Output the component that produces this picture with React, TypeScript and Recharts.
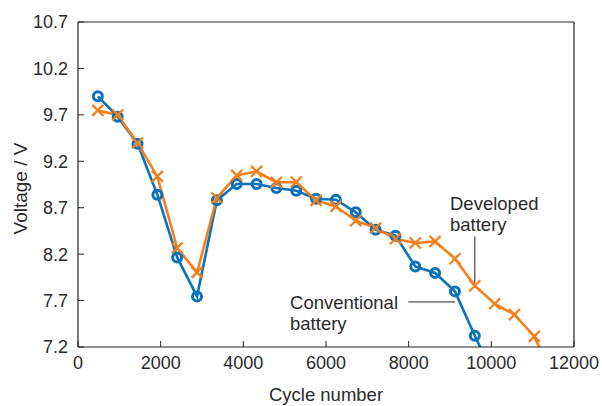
import React from "react";
import {
  LineChart,
  Line,
  XAxis,
  YAxis,
  ReferenceLine,
  ReferenceDot,
} from "recharts";

// ---- data ----
const cycles = [
  480, 960, 1440, 1920, 2400, 2880, 3360, 3840, 4320, 4800, 5280, 5760,
  6240, 6720, 7200, 7680, 8160, 8640, 9120, 9600, 10080, 10560, 11040, 11520,
];
const conventional = [
  9.9, 9.68, 9.39, 8.84, 8.165, 7.745, 8.78, 8.955, 8.955, 8.912, 8.883, 8.797,
  8.786, 8.65, 8.463, 8.399, 8.068, 7.997, 7.799, 7.322, 6.87,
];
const developed = [
  9.748, 9.7, 9.397, 9.037, 8.266, 8.003, 8.805, 9.048, 9.091, 8.973, 8.977,
  8.779, 8.714, 8.56, 8.482, 8.366, 8.32, 8.337, 8.151, 7.86, 7.666, 7.548,
  7.314, 6.83,
];
const xTicks = [0, 2000, 4000, 6000, 8000, 10000, 12000];
const yTicks = [7.2, 7.7, 8.2, 8.7, 9.2, 9.7, 10.2, 10.7];

// annotations (data coordinates)
const developedPointer = [
  { x: 9600, y: 8.39 },
  { x: 9600, y: 7.87 },
];
const conventionalPointer = [
  { x: 7990, y: 7.685 },
  { x: 9120, y: 7.685 },
];
const developedLabelAt = { x: 9000, y: 8.679, lines: ["Developed", "battery"] };
const conventionalLabelAt = { x: 5130, y: 7.613, lines: ["Conventional", "battery"] };

const data = cycles.map((c, i) => ({
  cycle: c,
  conventional: i < conventional.length ? conventional[i] : null,
  developed: i < developed.length ? developed[i] : null,
}));

const BLUE = "#0a72ba";
const ORANGE = "#f2801e";
const TEXT = "#2a2a2a";
const AXIS = "#222";
const FONT = "'Liberation Sans', Arial, Helvetica, sans-serif";

const XTick = (props: any) => {
  const { x, y, payload } = props;
  const axisY = y - 9;
  return (
    <g>
      <line x1={x} x2={x} y1={axisY} y2={axisY - 6} stroke={AXIS} strokeWidth={1} />
      <text x={x} y={y} dy="0.71em" textAnchor="middle" fill={TEXT} fontSize={18} fontFamily={FONT}>
        {payload.value}
      </text>
    </g>
  );
};

const YTick = (props: any) => {
  const { x, y, payload } = props;
  const axisX = x + 10;
  return (
    <g>
      <line x1={axisX} x2={axisX + 6} y1={y} y2={y} stroke={AXIS} strokeWidth={1} />
      <text x={x} y={y} dy="0.355em" textAnchor="end" fill={TEXT} fontSize={18} fontFamily={FONT}>
        {Number(payload.value).toFixed(1)}
      </text>
    </g>
  );
};

const CircleDot = (props: any) => {
  const { cx, cy, index, value } = props;
  if (cx == null || cy == null || value == null) return <g key={`c-${index}`} />;
  return (
    <circle key={`c-${index}`} cx={cx} cy={cy} r={4.5} fill="none" stroke={BLUE} strokeWidth={3} />
  );
};

const CrossDot = (props: any) => {
  const { cx, cy, index, value } = props;
  if (cx == null || cy == null || value == null) return <g key={`x-${index}`} />;
  const s = 5.5;
  return (
    <g key={`x-${index}`}>
      <line x1={cx - s} y1={cy - s} x2={cx + s} y2={cy + s} stroke={ORANGE} strokeWidth={2.3} />
      <line x1={cx - s} y1={cy + s} x2={cx + s} y2={cy - s} stroke={ORANGE} strokeWidth={2.3} />
    </g>
  );
};

const makeLabelShape = (lines: string[]) => (p: any) => (
  <text x={p.cx} y={p.cy} fill={TEXT} fontSize={18.5} fontFamily={FONT}>
    <tspan x={p.cx}>{lines[0]}</tspan>
    <tspan x={p.cx} dy={21.5}>{lines[1]}</tspan>
  </text>
);

export default function App() {
  return (
    <div style={{ position: "absolute", left: 0, top: 0, width: 602, height: 406, background: "#fff" }}>
      <LineChart
        width={602}
        height={406}
        data={data}
        margin={{ top: 22, right: 28, bottom: 0, left: 0 }}
        style={{ overflow: "visible" }}
      >
        <XAxis
          dataKey="cycle"
          type="number"
          domain={[0, 12000]}
          ticks={xTicks}
          tickSize={0}
          tickMargin={9}
          tick={<XTick />}
          height={59}
          axisLine={{ stroke: AXIS, strokeWidth: 1.2 }}
          interval={0}
          label={(lp: any) => {
            const vb = lp.viewBox || {};
            return (
              <text
                x={vb.x + vb.width / 2}
                y={vb.y + 54}
                textAnchor="middle"
                fill={TEXT}
                fontSize={18.5}
                fontFamily={FONT}
              >
                Cycle number
              </text>
            );
          }}
        />
        <YAxis
          type="number"
          domain={[7.2, 10.7]}
          ticks={yTicks}
          allowDataOverflow
          width={78}
          tickSize={0}
          tickMargin={10}
          tick={<YTick />}
          interval={0}
          axisLine={{ stroke: AXIS, strokeWidth: 1.2 }}
          label={(lp: any) => {
            const vb = lp.viewBox || {};
            const cx = 27;
            const cy = vb.y + vb.height / 2 + 4;
            return (
              <text
                x={cx}
                y={cy}
                transform={`rotate(-90, ${cx}, ${cy})`}
                textAnchor="middle"
                fill={TEXT}
                fontSize={19}
                fontFamily={FONT}
              >
                Voltage / V
              </text>
            );
          }}
        />
        <ReferenceLine y={10.7} stroke={AXIS} strokeWidth={1.2} />
        <ReferenceLine x={12000} stroke={AXIS} strokeWidth={1.2} />
        <ReferenceLine segment={developedPointer} stroke={AXIS} strokeWidth={1} />
        <ReferenceLine segment={conventionalPointer} stroke={AXIS} strokeWidth={1} />
        <Line
          dataKey="conventional"
          stroke={BLUE}
          strokeWidth={2.6}
          dot={CircleDot}
          activeDot={false}
          isAnimationActive={false}
        />
        <Line
          dataKey="developed"
          stroke={ORANGE}
          strokeWidth={2.6}
          dot={CrossDot}
          activeDot={false}
          isAnimationActive={false}
        />
        <ReferenceDot
          x={developedLabelAt.x}
          y={developedLabelAt.y}
          r={0}
          ifOverflow="visible"
          shape={makeLabelShape(developedLabelAt.lines)}
        />
        <ReferenceDot
          x={conventionalLabelAt.x}
          y={conventionalLabelAt.y}
          r={0}
          ifOverflow="visible"
          shape={makeLabelShape(conventionalLabelAt.lines)}
        />
      </LineChart>
    </div>
  );
}
